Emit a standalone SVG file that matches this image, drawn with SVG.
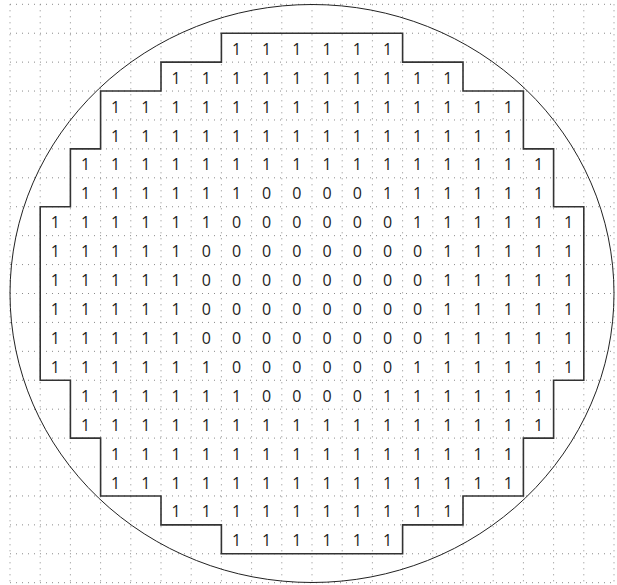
<svg xmlns="http://www.w3.org/2000/svg" width="617" height="585" viewBox="0 0 617 585">
<style>
.grid{fill:none;stroke:#8a8a8a;stroke-width:1;stroke-dasharray:1 5}
.wafer{fill:none;stroke:#222;stroke-width:1}
.die{fill:none;stroke:#333;stroke-width:1.6}
text{font-family:"Open Sans","Noto Sans","Liberation Sans",sans-serif;font-size:16px;fill:#222;text-anchor:middle}
</style>
<rect width="617" height="585" fill="#fff"/>
<g id="grid">
<path class="grid" d="M10,4.3V582.7M40.2,4.3V582.7M70.4,4.3V582.7M100.6,4.3V582.7M130.8,4.3V582.7M161,4.3V582.7M191.2,4.3V582.7M221.4,4.3V582.7M251.6,4.3V582.7M281.8,4.3V582.7M312,4.3V582.7M342.2,4.3V582.7M372.4,4.3V582.7M402.6,4.3V582.7M432.8,4.3V582.7M463,4.3V582.7M493.2,4.3V582.7M523.4,4.3V582.7M553.6,4.3V582.7M583.8,4.3V582.7M614,4.3V582.7"/>
<path class="grid" d="M10,4.3H614M10,33.22H614M10,62.14H614M10,91.06H614M10,119.98H614M10,148.9H614M10,177.82H614M10,206.74H614M10,235.66H614M10,264.58H614M10,293.5H614M10,322.42H614M10,351.34H614M10,380.26H614M10,409.18H614M10,438.1H614M10,467.02H614M10,495.94H614M10,524.86H614M10,553.78H614M10,582.7H614"/>
</g>
<g id="wafer"><ellipse class="wafer" cx="312" cy="293.5" rx="302" ry="289"/></g>
<g id="boundary"><path class="die" d="M221.4,33.22H402.6V62.14H463V91.06H523.4V148.9H553.6V206.74H583.8V380.26H553.6V438.1H523.4V495.94H463V524.86H402.6V553.78H221.4V524.86H161V495.94H100.6V438.1H70.4V380.26H40.2V206.74H70.4V148.9H100.6V91.06H161V62.14H221.4Z"/></g>
<g id="cells">
<g id="row1" transform="translate(0,54.7)"><text x="236.5">1</text><text x="266.7">1</text><text x="296.9">1</text><text x="327.1">1</text><text x="357.3">1</text><text x="387.5">1</text></g>
<g id="row2" transform="translate(0,83.6)"><text x="176.1">1</text><text x="206.3">1</text><text x="236.5">1</text><text x="266.7">1</text><text x="296.9">1</text><text x="327.1">1</text><text x="357.3">1</text><text x="387.5">1</text><text x="417.7">1</text><text x="447.9">1</text></g>
<g id="row3" transform="translate(0,112.6)"><text x="115.7">1</text><text x="145.9">1</text><text x="176.1">1</text><text x="206.3">1</text><text x="236.5">1</text><text x="266.7">1</text><text x="296.9">1</text><text x="327.1">1</text><text x="357.3">1</text><text x="387.5">1</text><text x="417.7">1</text><text x="447.9">1</text><text x="478.1">1</text><text x="508.3">1</text></g>
<g id="row4" transform="translate(0,141.5)"><text x="115.7">1</text><text x="145.9">1</text><text x="176.1">1</text><text x="206.3">1</text><text x="236.5">1</text><text x="266.7">1</text><text x="296.9">1</text><text x="327.1">1</text><text x="357.3">1</text><text x="387.5">1</text><text x="417.7">1</text><text x="447.9">1</text><text x="478.1">1</text><text x="508.3">1</text></g>
<g id="row5" transform="translate(0,170.4)"><text x="85.5">1</text><text x="115.7">1</text><text x="145.9">1</text><text x="176.1">1</text><text x="206.3">1</text><text x="236.5">1</text><text x="266.7">1</text><text x="296.9">1</text><text x="327.1">1</text><text x="357.3">1</text><text x="387.5">1</text><text x="417.7">1</text><text x="447.9">1</text><text x="478.1">1</text><text x="508.3">1</text><text x="538.5">1</text></g>
<g id="row6" transform="translate(0,199.3)"><text x="85.5">1</text><text x="115.7">1</text><text x="145.9">1</text><text x="176.1">1</text><text x="206.3">1</text><text x="236.5">1</text><text x="266.7">0</text><text x="296.9">0</text><text x="327.1">0</text><text x="357.3">0</text><text x="387.5">1</text><text x="417.7">1</text><text x="447.9">1</text><text x="478.1">1</text><text x="508.3">1</text><text x="538.5">1</text></g>
<g id="row7" transform="translate(0,228.2)"><text x="55.3">1</text><text x="85.5">1</text><text x="115.7">1</text><text x="145.9">1</text><text x="176.1">1</text><text x="206.3">1</text><text x="236.5">0</text><text x="266.7">0</text><text x="296.9">0</text><text x="327.1">0</text><text x="357.3">0</text><text x="387.5">0</text><text x="417.7">1</text><text x="447.9">1</text><text x="478.1">1</text><text x="508.3">1</text><text x="538.5">1</text><text x="568.7">1</text></g>
<g id="row8" transform="translate(0,257.2)"><text x="55.3">1</text><text x="85.5">1</text><text x="115.7">1</text><text x="145.9">1</text><text x="176.1">1</text><text x="206.3">0</text><text x="236.5">0</text><text x="266.7">0</text><text x="296.9">0</text><text x="327.1">0</text><text x="357.3">0</text><text x="387.5">0</text><text x="417.7">0</text><text x="447.9">1</text><text x="478.1">1</text><text x="508.3">1</text><text x="538.5">1</text><text x="568.7">1</text></g>
<g id="row9" transform="translate(0,286.1)"><text x="55.3">1</text><text x="85.5">1</text><text x="115.7">1</text><text x="145.9">1</text><text x="176.1">1</text><text x="206.3">0</text><text x="236.5">0</text><text x="266.7">0</text><text x="296.9">0</text><text x="327.1">0</text><text x="357.3">0</text><text x="387.5">0</text><text x="417.7">0</text><text x="447.9">1</text><text x="478.1">1</text><text x="508.3">1</text><text x="538.5">1</text><text x="568.7">1</text></g>
<g id="row10" transform="translate(0,315)"><text x="55.3">1</text><text x="85.5">1</text><text x="115.7">1</text><text x="145.9">1</text><text x="176.1">1</text><text x="206.3">0</text><text x="236.5">0</text><text x="266.7">0</text><text x="296.9">0</text><text x="327.1">0</text><text x="357.3">0</text><text x="387.5">0</text><text x="417.7">0</text><text x="447.9">1</text><text x="478.1">1</text><text x="508.3">1</text><text x="538.5">1</text><text x="568.7">1</text></g>
<g id="row11" transform="translate(0,343.9)"><text x="55.3">1</text><text x="85.5">1</text><text x="115.7">1</text><text x="145.9">1</text><text x="176.1">1</text><text x="206.3">0</text><text x="236.5">0</text><text x="266.7">0</text><text x="296.9">0</text><text x="327.1">0</text><text x="357.3">0</text><text x="387.5">0</text><text x="417.7">0</text><text x="447.9">1</text><text x="478.1">1</text><text x="508.3">1</text><text x="538.5">1</text><text x="568.7">1</text></g>
<g id="row12" transform="translate(0,372.8)"><text x="55.3">1</text><text x="85.5">1</text><text x="115.7">1</text><text x="145.9">1</text><text x="176.1">1</text><text x="206.3">1</text><text x="236.5">0</text><text x="266.7">0</text><text x="296.9">0</text><text x="327.1">0</text><text x="357.3">0</text><text x="387.5">0</text><text x="417.7">1</text><text x="447.9">1</text><text x="478.1">1</text><text x="508.3">1</text><text x="538.5">1</text><text x="568.7">1</text></g>
<g id="row13" transform="translate(0,401.8)"><text x="85.5">1</text><text x="115.7">1</text><text x="145.9">1</text><text x="176.1">1</text><text x="206.3">1</text><text x="236.5">1</text><text x="266.7">0</text><text x="296.9">0</text><text x="327.1">0</text><text x="357.3">0</text><text x="387.5">1</text><text x="417.7">1</text><text x="447.9">1</text><text x="478.1">1</text><text x="508.3">1</text><text x="538.5">1</text></g>
<g id="row14" transform="translate(0,430.7)"><text x="85.5">1</text><text x="115.7">1</text><text x="145.9">1</text><text x="176.1">1</text><text x="206.3">1</text><text x="236.5">1</text><text x="266.7">1</text><text x="296.9">1</text><text x="327.1">1</text><text x="357.3">1</text><text x="387.5">1</text><text x="417.7">1</text><text x="447.9">1</text><text x="478.1">1</text><text x="508.3">1</text><text x="538.5">1</text></g>
<g id="row15" transform="translate(0,459.6)"><text x="115.7">1</text><text x="145.9">1</text><text x="176.1">1</text><text x="206.3">1</text><text x="236.5">1</text><text x="266.7">1</text><text x="296.9">1</text><text x="327.1">1</text><text x="357.3">1</text><text x="387.5">1</text><text x="417.7">1</text><text x="447.9">1</text><text x="478.1">1</text><text x="508.3">1</text></g>
<g id="row16" transform="translate(0,488.5)"><text x="115.7">1</text><text x="145.9">1</text><text x="176.1">1</text><text x="206.3">1</text><text x="236.5">1</text><text x="266.7">1</text><text x="296.9">1</text><text x="327.1">1</text><text x="357.3">1</text><text x="387.5">1</text><text x="417.7">1</text><text x="447.9">1</text><text x="478.1">1</text><text x="508.3">1</text></g>
<g id="row17" transform="translate(0,517.4)"><text x="176.1">1</text><text x="206.3">1</text><text x="236.5">1</text><text x="266.7">1</text><text x="296.9">1</text><text x="327.1">1</text><text x="357.3">1</text><text x="387.5">1</text><text x="417.7">1</text><text x="447.9">1</text></g>
<g id="row18" transform="translate(0,546.4)"><text x="236.5">1</text><text x="266.7">1</text><text x="296.9">1</text><text x="327.1">1</text><text x="357.3">1</text><text x="387.5">1</text></g>
</g>
</svg>
